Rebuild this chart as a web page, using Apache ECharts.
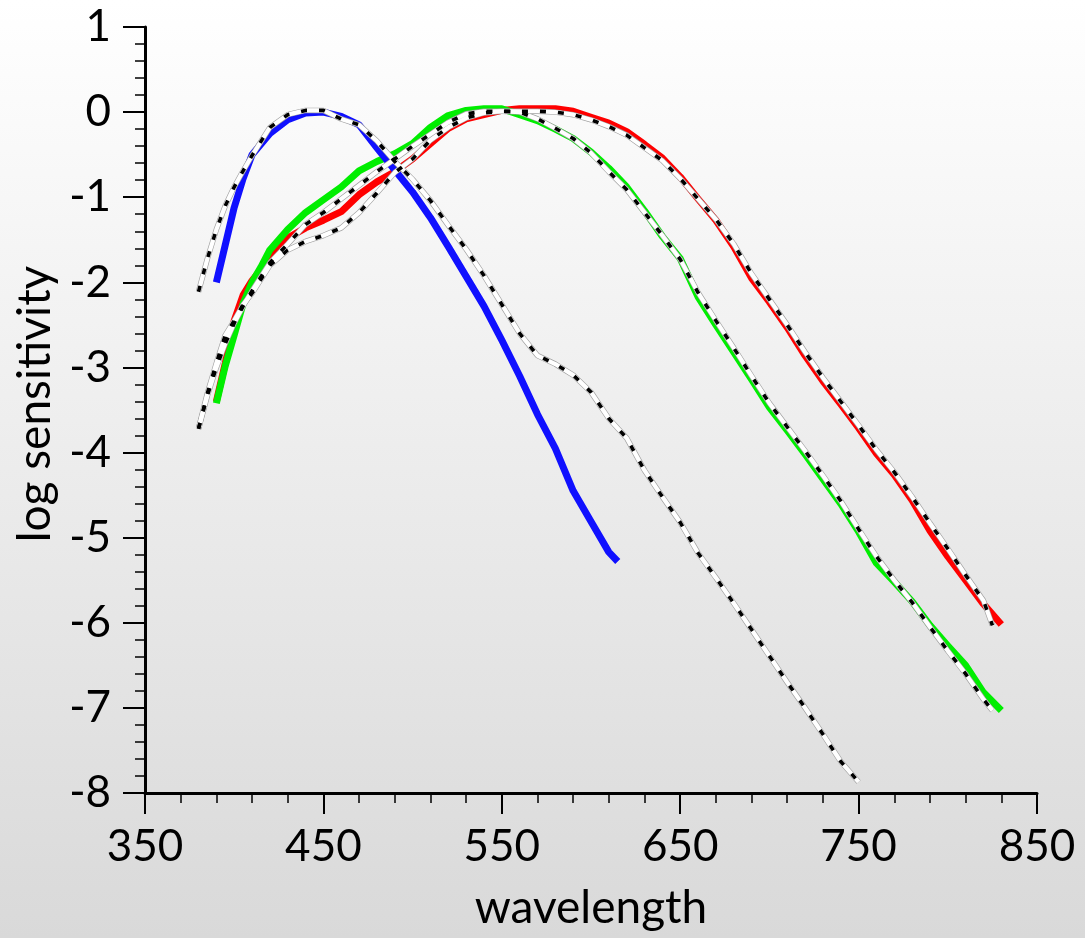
<!DOCTYPE html>
<html>
<head>
<meta charset="utf-8">
<script src="https://cdn.jsdelivr.net/npm/echarts@6/dist/echarts.min.js"></script>
<style>
  html, body { margin: 0; padding: 0; }
  #chart { width: 1085px; height: 938px; background: linear-gradient(to bottom, #ffffff 0%, #d9d9d9 100%); }
</style>
</head>
<body>
<div id="chart"></div>
<script>
// ---- Data (wavelength in nm, log sensitivity) ----
const sThickWl = [390,395,400,405,410,420,430,440,450,460,470,480,490,500,510,520,530,540,550,560,570,580,590,600,610,615];
const sThickVal = [-2.0,-1.56,-1.12,-0.78,-0.50,-0.25,-0.09,-0.01,0.0,-0.05,-0.15,-0.42,-0.68,-0.94,-1.24,-1.58,-1.93,-2.28,-2.68,-3.10,-3.55,-3.95,-4.45,-4.81,-5.17,-5.28];

const mThickWl = [390,395,400,405,410,415,420,430,440,450,460,470,480,490,500,510,520,530,540,550,560,570,580,590,600,610,620,630,640,650,660,670,680,690,700,710,720,730,740,750,760,770,780,790,800,810,820,830];
const mThickVal = [-3.42,-2.98,-2.62,-2.25,-2.0,-1.82,-1.62,-1.38,-1.18,-1.03,-0.88,-0.69,-0.58,-0.49,-0.37,-0.18,-0.04,0.02,0.04,0.04,-0.03,-0.10,-0.20,-0.31,-0.47,-0.66,-0.88,-1.16,-1.46,-1.72,-2.17,-2.50,-2.82,-3.14,-3.47,-3.74,-4.02,-4.31,-4.60,-4.93,-5.30,-5.52,-5.75,-6.03,-6.27,-6.50,-6.82,-7.03];

const lThickWl = [390,395,400,405,410,420,430,440,450,460,470,480,490,500,510,520,530,540,550,560,570,580,590,600,610,620,630,640,650,660,670,680,690,700,710,720,730,740,750,760,770,780,790,800,810,820,830];
const lThickVal = [-3.40,-2.95,-2.45,-2.15,-1.98,-1.72,-1.48,-1.36,-1.27,-1.17,-0.97,-0.82,-0.70,-0.55,-0.37,-0.19,-0.08,-0.03,0.02,0.04,0.04,0.04,0.01,-0.06,-0.13,-0.23,-0.38,-0.54,-0.76,-1.02,-1.27,-1.58,-1.95,-2.23,-2.53,-2.86,-3.16,-3.43,-3.71,-4.01,-4.26,-4.56,-4.92,-5.22,-5.50,-5.78,-6.02];

const sDashWl = [380,385,390,395,400,405,410,420,430,440,450,460,470,480,490,500,510,520,530,540,550,560,570,580,590,600,610,620,630,640,650,660,670,680,690,700,710,720,730,740,750];
const sDashVal = [-2.11,-1.72,-1.38,-1.10,-0.88,-0.69,-0.51,-0.18,-0.03,0.02,0.02,-0.08,-0.15,-0.34,-0.58,-0.79,-1.04,-1.33,-1.61,-1.92,-2.26,-2.60,-2.86,-2.96,-3.09,-3.29,-3.60,-3.83,-4.21,-4.52,-4.82,-5.18,-5.47,-5.77,-6.08,-6.39,-6.70,-7.00,-7.31,-7.63,-7.87];

const mDashWl = [380,385,390,395,400,405,410,420,430,440,450,460,470,480,490,500,510,520,530,540,550,560,570,580,590,600,610,620,630,640,650,660,670,680,690,700,710,720,730,740,750,760,770,780,790,800,810,820,825];
const mDashVal = [-3.72,-3.33,-3.0,-2.72,-2.48,-2.28,-2.10,-1.77,-1.55,-1.32,-1.18,-1.02,-0.86,-0.70,-0.55,-0.40,-0.26,-0.12,-0.02,0.01,0.01,0.0,-0.08,-0.19,-0.31,-0.48,-0.70,-0.91,-1.18,-1.45,-1.73,-2.12,-2.45,-2.77,-3.10,-3.42,-3.70,-3.98,-4.27,-4.57,-4.90,-5.22,-5.50,-5.76,-6.05,-6.33,-6.60,-6.90,-7.03];

const lDashWl = [380,385,390,395,400,405,410,420,430,440,450,460,470,480,490,500,510,520,530,540,550,560,570,580,590,600,610,620,630,640,650,660,670,680,690,700,710,720,730,740,750,760,770,780,790,800,810,820,825];
const lDashVal = [-3.72,-3.30,-2.95,-2.62,-2.45,-2.26,-2.13,-1.80,-1.62,-1.52,-1.45,-1.36,-1.18,-0.95,-0.71,-0.55,-0.33,-0.18,-0.07,-0.01,0.01,0.01,0.01,0.0,-0.03,-0.09,-0.17,-0.27,-0.42,-0.57,-0.78,-1.02,-1.26,-1.55,-1.90,-2.20,-2.50,-2.82,-3.12,-3.40,-3.68,-3.97,-4.23,-4.52,-4.83,-5.13,-5.44,-5.74,-6.03];

const yTicks = [1,0,-1,-2,-3,-4,-5,-6,-7,-8];
const xTicks = [350,450,550,650,750,850];

function pairs(wl, v) { return wl.map((w, i) => [w, v[i]]); }

const FONT = 'Lato';
const chart = echarts.init(document.getElementById('chart'), null, { renderer: 'canvas' });

function thick(name, wl, v, color) {
  return { name, type: 'line', data: pairs(wl, v), showSymbol: false, symbol: 'none', smooth: false,
    lineStyle: { color, width: 7, cap: 'butt', join: 'round' }, z: 2, silent: true };
}
function dashed(name, wl, v) {
  const d = pairs(wl, v);
  return [
    { name: name + '-edge', type: 'line', data: d, symbol: 'none', lineStyle: { color: '#a0a0a0', width: 5.5 }, z: 3, silent: true },
    { name: name + '-white', type: 'line', data: d, symbol: 'none', lineStyle: { color: '#ffffff', width: 4.2 }, z: 4, silent: true },
    { name: name + '-dash', type: 'line', data: d, symbol: 'none', lineStyle: { color: '#000000', width: 3.6, type: [6, 12], cap: 'butt' }, z: 5, silent: true }
  ];
}

const option = {
  backgroundColor: 'transparent',
  animation: false,
  grid: { left: 145, right: 48, top: 27, bottom: 145, containLabel: false, outerBoundsMode: 'none' },
  xAxis: {
    type: 'value', min: 350, max: 850, interval: 100,
    name: 'wavelength', nameLocation: 'middle', nameGap: 92,
    nameTextStyle: { fontFamily: FONT, fontSize: 46, color: '#000' },
    axisLine: { show: true, onZero: false, lineStyle: { color: '#000', width: 3 } },
    axisTick: { show: true, length: 21, lineStyle: { color: '#000', width: 2 } },
    minorTick: { show: true, splitNumber: 5, length: 10, lineStyle: { color: '#000', width: 1.5 } },
    axisLabel: { fontFamily: FONT, fontSize: 44, color: '#000', margin: 32,
      formatter: v => xTicks.includes(v) ? String(v) : '' },
    splitLine: { show: false }, minorSplitLine: { show: false }
  },
  yAxis: {
    type: 'value', min: -8, max: 1, interval: 1,
    name: 'log sensitivity', nameLocation: 'middle', nameGap: 85, nameRotate: 90,
    nameTextStyle: { fontFamily: FONT, fontSize: 46, color: '#000', padding: [0, 0, 0, 12] },
    axisLine: { show: true, onZero: false, lineStyle: { color: '#000', width: 3 } },
    axisTick: { show: true, length: 22, lineStyle: { color: '#000', width: 2 } },
    minorTick: { show: true, splitNumber: 5, length: 10, lineStyle: { color: '#000', width: 1.5 } },
    axisLabel: { fontFamily: FONT, fontSize: 44, color: '#000', margin: 34,
      formatter: v => yTicks.includes(v) ? String(v) : '' },
    splitLine: { show: false }, minorSplitLine: { show: false }
  },
  series: [
    thick('L', lThickWl, lThickVal, '#ff0000'),
    thick('M', mThickWl, mThickVal, '#00ee00'),
    thick('S', sThickWl, sThickVal, '#1010ff'),
    ...dashed('Ldash', lDashWl, lDashVal),
    ...dashed('Mdash', mDashWl, mDashVal),
    ...dashed('Sdash', sDashWl, sDashVal)
  ]
};
chart.setOption(option);
</script>
</body>
</html>
